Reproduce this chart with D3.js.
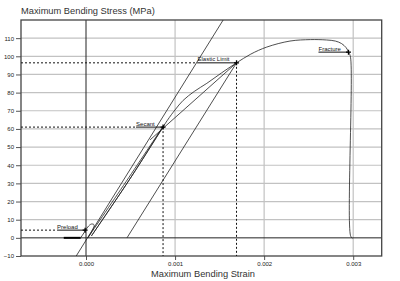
<!DOCTYPE html>
<html>
<head>
<meta charset="utf-8">
<script src="https://cdn.jsdelivr.net/npm/d3@7"></script>
<style>
  body { margin: 0; background: #fff; }
  svg { display: block; font-family: "Liberation Sans", Arial, sans-serif; }
</style>
</head>
<body>
<div id="chart"></div>
<script>
// ticks
var strainTicks = [0, 0.001, 0.002, 0.003];
var stressTicks = [-10, 0, 10, 20, 30, 40, 50, 60, 70, 80, 90, 100, 110];

// preload (flat part before the specimen takes load)
var preloadStrain = [-0.00025, -0.00006];
var preloadStress = [0, 0];

// measured curve, with the load / unload cycles near the origin
var curveStrain = [-0.00006, -0.00002, 0.00002, 0.00006, 0.00009, 0.00008, 0.00004, 0.00002,
                   0.00045, 0.00088, 0.00048, 0.00006, 0.00050, 0.00091,
                   0.00100, 0.00109, 0.00122, 0.001356, 0.00152, 0.00169, 0.00185, 0.00203,
                   0.00229, 0.00252, 0.00270, 0.00280, 0.00287, 0.00292, 0.00295, 0.00297,
                   0.00297, 0.00299];
var curveStress = [0, 3, 6, 7.6, 7.2, 5, 1.5, 0,
                   31, 62.3, 31.5, 1, 33, 64.5,
                   70.5, 75.7, 80.8, 85.1, 90.8, 96.4, 101.2, 105.1,
                   108.4, 109.2, 109.0, 108.4, 107.0, 104.8, 102.2, 99.5,
                   1.2, -0.3];

// straight construction lines
var modulusStrain = [-0.00011, 0.00154];
var modulusStress = [-10, 120];
var offsetStrain = [0.00046, 0.00169];
var offsetStress = [0, 96.4];
var chordStrain = [0.00072, 0.00169];
var chordStress = [54, 96.4];

// marked points
var markNames = ["Preload", "Secant", "Elastic Limit", "Fracture"];
var markStrain = [-0.00001, 0.000865, 0.00169, 0.002947];
var markStress = [4.25, 61, 96.4, 102.3];
var markDrop = [false, true, true, false];   // dashed line down to the axis
var markGuide = [true, true, true, false];   // dashed line to the stress axis

var width = 400, height = 281;
var plotL = 21, plotR = 381.7, plotT = 20, plotB = 256;

var x = d3.scaleLinear().domain([-0.00073, 0.00332]).range([plotL, plotR]);
var y = d3.scaleLinear().domain([-10, 120]).range([plotB, plotT]);

var svg = d3.select("#chart").append("svg")
  .attr("width", width)
  .attr("height", height);

// grid
svg.append("g").selectAll("line")
  .data(stressTicks.filter(function(d){ return d !== 0 && d !== -10; }))
  .enter().append("line")
  .attr("x1", plotL).attr("x2", plotR)
  .attr("y1", function(d){ return y(d); }).attr("y2", function(d){ return y(d); })
  .attr("stroke", "#c2c2c2").attr("stroke-width", 1.2);

svg.append("g").selectAll("line")
  .data(strainTicks.filter(function(d){ return d !== 0; }))
  .enter().append("line")
  .attr("x1", function(d){ return x(d); }).attr("x2", function(d){ return x(d); })
  .attr("y1", plotT).attr("y2", plotB)
  .attr("stroke", "#c2c2c2").attr("stroke-width", 1.2);

// zero lines
svg.append("line")
  .attr("x1", plotL).attr("x2", plotR).attr("y1", y(0)).attr("y2", y(0))
  .attr("stroke", "#222").attr("stroke-width", 1);
svg.append("line")
  .attr("x1", x(0)).attr("x2", x(0)).attr("y1", plotT).attr("y2", plotB)
  .attr("stroke", "#222").attr("stroke-width", 1);

// axes
var yAxis = d3.axisLeft(y).tickValues(stressTicks).tickSize(5).tickPadding(2)
  .tickFormat(d3.format("d"));
var gy = svg.append("g").attr("transform", "translate(" + plotL + ",0)").call(yAxis);
var xAxis = d3.axisBottom(x).tickValues(strainTicks).tickSize(4).tickPadding(1.5)
  .tickFormat(d3.format(".3f"));
var gx = svg.append("g").attr("transform", "translate(0," + plotB + ")").call(xAxis);

[gx, gy].forEach(function(g){
  g.select(".domain").remove();
  g.selectAll(".tick line").attr("stroke", "#555");
  g.selectAll(".tick text").attr("font-size", 6).attr("fill", "#222")
   .attr("font-family", "'Liberation Sans', Arial, sans-serif");
});

// frame
svg.append("rect")
  .attr("x", plotL).attr("y", plotT)
  .attr("width", plotR - plotL).attr("height", plotB - plotT)
  .attr("fill", "none").attr("stroke", "#444").attr("stroke-width", 1.3);

function pts(xs, ys){
  return xs.map(function(v, i){ return [v, ys[i]]; });
}

var line = d3.line()
  .x(function(d){ return x(d[0]); })
  .y(function(d){ return y(d[1]); });

var curve = d3.line()
  .x(function(d){ return x(d[0]); })
  .y(function(d){ return y(d[1]); })
  .curve(d3.curveCatmullRom.alpha(0.5));

svg.append("path").attr("d", line(pts(modulusStrain, modulusStress)))
  .attr("fill", "none").attr("stroke", "#222").attr("stroke-width", 0.8);
svg.append("path").attr("d", line(pts(offsetStrain, offsetStress)))
  .attr("fill", "none").attr("stroke", "#222").attr("stroke-width", 0.8);
svg.append("path").attr("d", line(pts(chordStrain, chordStress)))
  .attr("fill", "none").attr("stroke", "#222").attr("stroke-width", 0.8);

svg.append("path").attr("d", line(pts(preloadStrain, preloadStress)))
  .attr("fill", "none").attr("stroke", "#000").attr("stroke-width", 2);
svg.append("path").attr("d", curve(pts(curveStrain, curveStress)))
  .attr("fill", "none").attr("stroke", "#222").attr("stroke-width", 0.8);

// annotations
var labelGap = [28, 27, 39, 30];  // length of the leader under each label
var marks = markNames.map(function(n, i){
  return { name: n, sx: markStrain[i], sy: markStress[i], drop: markDrop[i], guide: markGuide[i], gap: labelGap[i] };
});

var ann = svg.append("g").selectAll("g").data(marks).enter().append("g");

ann.filter(function(d){ return d.guide; }).append("line")
  .attr("x1", plotL)
  .attr("x2", function(d){ return x(d.sx) - d.gap; })
  .attr("y1", function(d){ return y(d.sy); })
  .attr("y2", function(d){ return y(d.sy); })
  .attr("stroke", "#111").attr("stroke-width", 1).attr("stroke-dasharray", "2,2");

ann.filter(function(d){ return d.drop; }).append("line")
  .attr("x1", function(d){ return x(d.sx); })
  .attr("x2", function(d){ return x(d.sx); })
  .attr("y1", function(d){ return y(d.sy); })
  .attr("y2", plotB)
  .attr("stroke", "#111").attr("stroke-width", 1).attr("stroke-dasharray", "2,2");

ann.append("line")
  .attr("x1", function(d){ return x(d.sx) - d.gap; })
  .attr("x2", function(d){ return x(d.sx); })
  .attr("y1", function(d){ return y(d.sy); })
  .attr("y2", function(d){ return y(d.sy); })
  .attr("stroke", "#111").attr("stroke-width", 1);

ann.append("text")
  .attr("x", function(d){ return x(d.sx) - d.gap; })
  .attr("y", function(d){ return y(d.sy) - 1.5; })
  .attr("font-size", 6)
  .attr("fill", "#111")
  .text(function(d){ return d.name; });

ann.append("path")
  .attr("d", function(d){
    var cx = x(d.sx), cy = y(d.sy);
    return "M" + (cx - 2.5) + "," + cy + "H" + (cx + 2.5) + "M" + cx + "," + (cy - 2.5) + "V" + (cy + 2.5);
  })
  .attr("stroke", "#000").attr("stroke-width", 1.3);

// titles
svg.append("text")
  .attr("x", plotL).attr("y", 13.5)
  .attr("font-size", 9.3).attr("fill", "#333")
  .text("Maximum Bending Stress (MPa)");

svg.append("text")
  .attr("x", 203).attr("y", 277)
  .attr("text-anchor", "middle")
  .attr("font-size", 9.3).attr("fill", "#333")
  .text("Maximum Bending Strain");
</script>
</body>
</html>
